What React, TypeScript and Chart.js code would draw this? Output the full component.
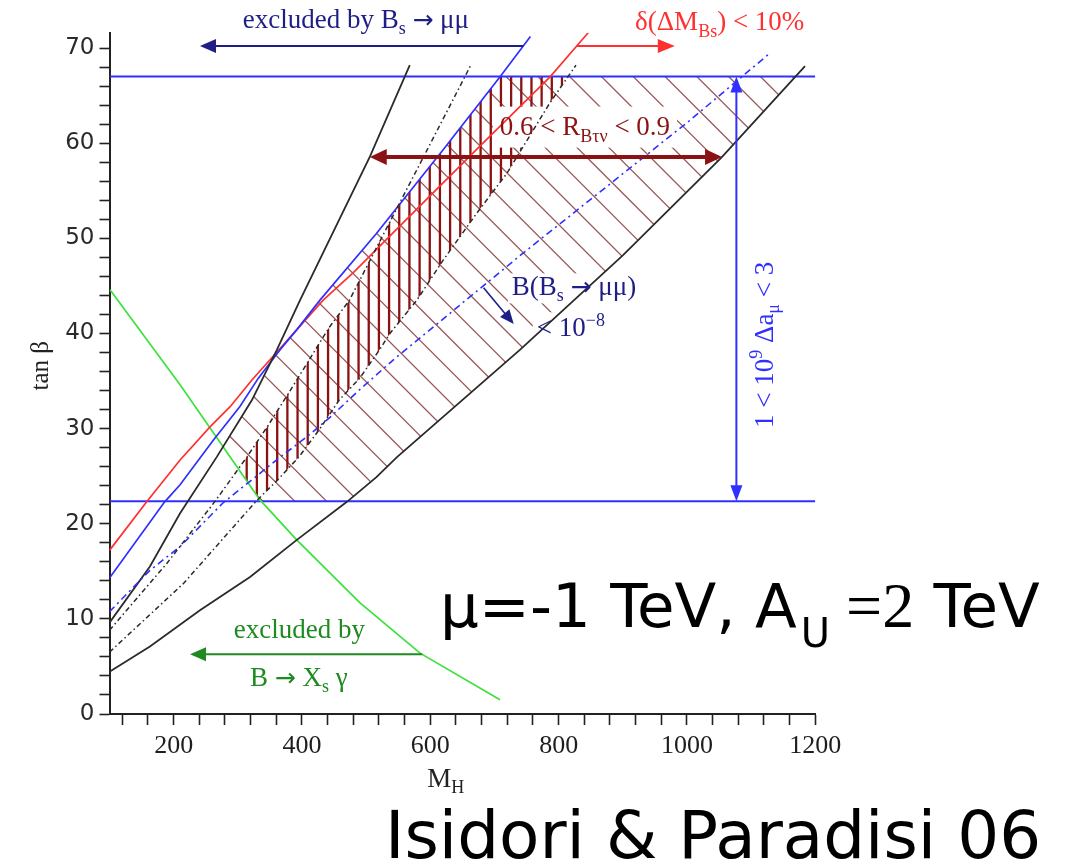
import React, { useEffect, useRef } from 'react';
import { Chart, registerables } from 'chart.js';

Chart.register(...registerables);

// ---------------- data: contours in the (M_H [GeV], tan β) plane ----------------
const mHRange = [100, 1200];
const tanBetaRange = [0, 71.6];

const xTickValues = [120, 160, 200, 240, 280, 320, 360, 400, 440, 480, 520, 560, 600, 640, 680, 720, 760, 800, 840, 880, 920, 960, 1000, 1040, 1080, 1120, 1160, 1200];
const xTickLabels = ['200', '400', '600', '800', '1000', '1200'];
const yTickValues = [0, 2, 4, 6, 8, 10, 12, 14, 16, 18, 20, 22, 24, 26, 28, 30, 32, 34, 36, 38, 40, 42, 44, 46, 48, 50, 52, 54, 56, 58, 60, 62, 64, 66, 68, 70];
const yTickLabels = ['0', '10', '20', '30', '40', '50', '60', '70'];

// solid black contours
const steepBlack_mH = [100, 163, 210, 267, 322, 361, 397, 506, 568];
const steepBlack_tanb = [9.6, 15.5, 21.1, 27.0, 33.0, 38.3, 43.5, 58.6, 68.2];
const lowBlack_mH = [100, 163, 241, 319, 392, 470, 516, 548, 740, 900, 1054, 1184];
const lowBlack_tanb = [4.45, 7.1, 10.9, 14.4, 18.3, 22.3, 24.9, 27.0, 38.3, 48.2, 58.5, 68.1];

// δ(ΔM_Bs) = 10 % contour
const deltaMs_mH = [100, 158, 210, 257, 288, 322, 355, 392, 433, 480, 557, 682, 787, 846];
const deltaMs_tanb = [17.2, 22.3, 26.7, 30.2, 32.3, 35.1, 37.6, 40.4, 43.5, 46.4, 51.6, 60.0, 67.0, 71.6];

// B(Bs → μμ) exclusion contour and the 10^-8 contour
const bsMuMu_mH = [100, 186, 210, 262, 303, 332, 366, 392, 428, 516, 620, 709, 756];
const bsMuMu_tanb = [14.3, 22.3, 24.1, 28.8, 32.3, 35.3, 38.3, 40.4, 43.5, 50.5, 59.3, 67.0, 71.2];
const bsMuMu8_mH = [100, 163, 210, 277, 366, 407, 444, 490, 542, 742, 1001, 1130];
const bsMuMu8_tanb = [10.75, 15.1, 17.6, 22.2, 27.0, 29.1, 31.2, 34.1, 37.2, 48.3, 62.2, 69.5];

// R_Bτν band edges
const rBtvUpper_mH = [100, 189, 265, 314, 346, 377, 411, 442, 474, 526, 579, 654, 663];
const rBtvUpper_tanb = [8.8, 15.8, 22.4, 27.0, 30.2, 33.5, 37.2, 40.6, 43.5, 50.3, 57.2, 67.0, 68.2];
const rBtvLower_mH = [100, 215, 329, 362, 395, 427, 458, 490, 521, 537, 579, 620, 672, 719, 786, 827];
const rBtvLower_tanb = [6.5, 13.7, 22.4, 24.6, 27.0, 29.9, 33.0, 35.3, 38.3, 40.0, 43.5, 47.7, 52.6, 56.8, 64.2, 68.2];

// B → X_s γ exclusion contour
const bsg_mH = [100.8, 210, 334.5, 391.7, 490, 584, 708.6];
const bsg_tanb = [44.6, 34.6, 22.5, 18.3, 11.7, 6.4, 1.5];

// tan β limits from 1 < 10^9 Δa_μ < 3
const amuBand = [22.35, 67.0];

// ---------------- styles ----------------
const SERIF = "'Liberation Serif', 'Times New Roman', serif";
const SANS = "'DejaVu Sans', Verdana, sans-serif";
const BIG = "'DejaVu Sans', sans-serif";

const C_BLACK = '#2b2b2b';
const C_BLUE = '#2f2fff';
const C_RED = '#ff3030';
const C_GREEN = '#3ce23c';
const C_NAVY = '#1e1e86';
const C_DARKRED = '#8a1212';
const C_DIAG = 'rgba(135,60,60,0.85)';
const C_TEXT_GREEN = '#1f8a1f';

const DIAG_STEP = 31.8;
const DIAG_PHASE = -206.5;
const VERT_STEP = 10.17;
const VERT_PHASE = 246.7;

// annotation anchors (data units)
const noteBsTop = { x: 484, y: 72.1, arrowY: 70.2, arrowTip: 241 };
const noteDeltaMs = { x: 1051, y: 71.9, arrowY: 70.2, arrowTip: 981 };
const noteRbtv = { x: 841, y: 60.9, arrowY: 58.55 };
const noteBs8 = { x1: 824, y1: 44.0, x2: 819, y2: 39.7, from: [683, 44.8], to: [730, 41.0] };
const noteAmu = { x: 1077, baseX: 1134, y: 38.8 };
const noteBsg = { x1: 396, y1: 7.99, x2: 395, y2: 2.94, arrowY: 6.27, arrowTip: 225.5 };

type Seg = { t: string; font: string; dy?: number; gap?: number };

const F27 = `27px ${SERIF}`;
const F18 = `18px ${SERIF}`;
const FARROW = `25px 'DejaVu Sans', sans-serif`;

function richWidth(ctx: CanvasRenderingContext2D, segs: Seg[]) {
  let w = 0;
  for (const s of segs) {
    ctx.font = s.font;
    w += (s.gap || 0) + ctx.measureText(s.t).width;
  }
  return w;
}

function drawRich(ctx: CanvasRenderingContext2D, segs: Seg[], x: number, y: number, align: 'left' | 'center', color: string) {
  const w = richWidth(ctx, segs);
  let cx = align === 'center' ? x - w / 2 : x;
  ctx.fillStyle = color;
  ctx.textAlign = 'left';
  ctx.textBaseline = 'alphabetic';
  for (const s of segs) {
    ctx.font = s.font;
    cx += s.gap || 0;
    ctx.fillText(s.t, cx, y + (s.dy || 0));
    cx += ctx.measureText(s.t).width;
  }
}

// white patch behind a label so the hatching stops around it
function clearBehind(ctx: CanvasRenderingContext2D, segs: Seg[], x: number, y: number, up: number, down: number, pad: number) {
  const w = richWidth(ctx, segs);
  ctx.fillStyle = '#fff';
  ctx.fillRect(x - w / 2 - pad, y - up, w + 2 * pad, up + down);
}

function head(ctx: CanvasRenderingContext2D, x: number, y: number, ang: number, len: number, half: number) {
  const c = Math.cos(ang), s = Math.sin(ang);
  ctx.beginPath();
  ctx.moveTo(x, y);
  ctx.lineTo(x - len * c + half * s, y - len * s - half * c);
  ctx.lineTo(x - len * c - half * s, y - len * s + half * c);
  ctx.closePath();
  ctx.fill();
}

function arrow(ctx: CanvasRenderingContext2D, x1: number, y1: number, x2: number, y2: number, color: string, lw: number, len: number, half: number, both = false) {
  const ang = Math.atan2(y2 - y1, x2 - x1);
  const c = Math.cos(ang), s = Math.sin(ang);
  ctx.save();
  ctx.strokeStyle = color;
  ctx.fillStyle = color;
  ctx.lineWidth = lw;
  ctx.beginPath();
  ctx.moveTo(both ? x1 + c * len * 0.7 : x1, both ? y1 + s * len * 0.7 : y1);
  ctx.lineTo(x2 - c * len * 0.7, y2 - s * len * 0.7);
  ctx.stroke();
  head(ctx, x2, y2, ang, len, half);
  if (both) head(ctx, x1, y1, ang + Math.PI, len, half);
  ctx.restore();
}

// M_H where a contour reaches a given tan β
function mHAt(xs: number[], ys: number[], y: number) {
  for (let i = 0; i < xs.length - 1; i++) {
    const y0 = ys[i], y1 = ys[i + 1];
    if ((y - y0) * (y - y1) <= 0 && y0 !== y1) return xs[i] + ((y - y0) / (y1 - y0)) * (xs[i + 1] - xs[i]);
  }
  return xs[xs.length - 1];
}

type Pt = [number, number];
const FAR = 4000;

function clipBelow(ctx: CanvasRenderingContext2D, pts: Pt[]) {
  const f = pts[0], l = pts[pts.length - 1];
  ctx.beginPath();
  ctx.moveTo(f[0], f[1]);
  for (const p of pts) ctx.lineTo(p[0], p[1]);
  ctx.lineTo(l[0] + FAR, l[1]);
  ctx.lineTo(l[0] + FAR, l[1] + FAR);
  ctx.lineTo(f[0] - FAR, f[1] + FAR);
  ctx.lineTo(f[0] - FAR, f[1]);
  ctx.closePath();
  ctx.clip();
}

function clipAbove(ctx: CanvasRenderingContext2D, pts: Pt[]) {
  const f = pts[0], l = pts[pts.length - 1];
  ctx.beginPath();
  ctx.moveTo(f[0], f[1]);
  for (const p of pts) ctx.lineTo(p[0], p[1]);
  ctx.lineTo(l[0] + FAR, l[1]);
  ctx.lineTo(l[0] + FAR, l[1] - FAR);
  ctx.lineTo(f[0] - FAR, f[1] - FAR);
  ctx.lineTo(f[0] - FAR, f[1]);
  ctx.closePath();
  ctx.clip();
}

const rbtvLabel: Seg[] = [{ t: '0.6 < R', font: F27 }, { t: 'B\u03c4\u03bd', font: F18, dy: 7 }, { t: ' < 0.9', font: F27 }];
const bs8Label1: Seg[] = [{ t: 'B(B', font: F27 }, { t: 's', font: F18, dy: 6 }, { t: ' ', font: F27 }, { t: '\u2192', font: FARROW }, { t: ' \u03bc\u03bc)', font: F27 }];
const bs8Label2: Seg[] = [{ t: '< 10', font: F27 }, { t: '\u22128', font: F18, dy: -10 }];

const regionsPlugin = {
  id: 'allowedRegions',
  beforeDatasetsDraw(chart: any) {
    const { ctx, chartArea: ca } = chart;
    const sx = chart.scales.x, sy = chart.scales.y;
    const P = (xs: number[], ys: number[]): Pt[] => xs.map((v, i) => [sx.getPixelForValue(v), sy.getPixelForValue(ys[i])]);
    const yHi = sy.getPixelForValue(amuBand[1]);
    const yLo = sy.getPixelForValue(amuBand[0]);

    // diagonal hatching: allowed by B(Bs→μμ), B→Xsγ and Δa_μ
    ctx.save();
    ctx.beginPath();
    ctx.rect(ca.left, yHi, ca.right - ca.left, yLo - yHi);
    ctx.clip();
    clipAbove(ctx, P(bsg_mH, bsg_tanb));
    clipBelow(ctx, P(steepBlack_mH, steepBlack_tanb));
    clipBelow(ctx, P(bsMuMu_mH, bsMuMu_tanb));
    clipAbove(ctx, P(lowBlack_mH, lowBlack_tanb));
    ctx.strokeStyle = C_DIAG;
    ctx.lineWidth = 1.3;
    ctx.beginPath();
    for (let k = -40; k <= 60; k++) {
      const c = DIAG_PHASE + k * DIAG_STEP;
      ctx.moveTo(c + yHi - 20, yHi - 20);
      ctx.lineTo(c + yLo + 20, yLo + 20);
    }
    ctx.stroke();
    ctx.restore();

    // vertical hatching: inside the R_Bτν band as well
    ctx.save();
    ctx.beginPath();
    ctx.rect(ca.left, yHi, ca.right - ca.left, yLo - yHi);
    ctx.clip();
    clipAbove(ctx, P(bsg_mH, bsg_tanb));
    clipBelow(ctx, P(bsMuMu_mH, bsMuMu_tanb));
    clipBelow(ctx, P(rBtvUpper_mH, rBtvUpper_tanb));
    clipAbove(ctx, P(rBtvLower_mH, rBtvLower_tanb));
    ctx.strokeStyle = C_DARKRED;
    ctx.lineWidth = 2.3;
    ctx.beginPath();
    for (let k = -20; k <= 70; k++) {
      const x = VERT_PHASE + k * VERT_STEP;
      ctx.moveTo(x, yHi - 5);
      ctx.lineTo(x, yLo + 5);
    }
    ctx.stroke();
    ctx.restore();

    // label patches
    ctx.save();
    clearBehind(ctx, rbtvLabel, sx.getPixelForValue(noteRbtv.x), sy.getPixelForValue(noteRbtv.y), 28, 13, 7);
    clearBehind(ctx, bs8Label1, sx.getPixelForValue(noteBs8.x1), sy.getPixelForValue(noteBs8.y1), 22, 8, 4);
    clearBehind(ctx, bs8Label2, sx.getPixelForValue(noteBs8.x2), sy.getPixelForValue(noteBs8.y2), 24, 6, 4);
    ctx.restore();
  },
  afterDatasetsDraw(chart: any) {
    const { ctx } = chart;
    const sx = chart.scales.x, sy = chart.scales.y;
    const X = (v: number) => sx.getPixelForValue(v);
    const Y = (v: number) => sy.getPixelForValue(v);

    // excluded by Bs → μμ
    drawRich(ctx, [{ t: 'excluded by B', font: F27 }, { t: 's', font: F18, dy: 6 }, { t: ' ', font: F27 }, { t: '\u2192', font: FARROW }, { t: ' \u03bc\u03bc', font: F27 }], X(noteBsTop.x), Y(noteBsTop.y), 'center', C_NAVY);
    arrow(ctx, X(mHAt(bsMuMu_mH, bsMuMu_tanb, noteBsTop.arrowY)), Y(noteBsTop.arrowY), X(noteBsTop.arrowTip), Y(noteBsTop.arrowY), C_NAVY, 2, 16, 7);

    // δ(ΔM_Bs) < 10%
    drawRich(ctx, [{ t: '\u03b4(\u0394M', font: F27 }, { t: 'Bs', font: F18, dy: 7 }, { t: ') < 10%', font: F27 }], X(noteDeltaMs.x), Y(noteDeltaMs.y), 'center', C_RED);
    arrow(ctx, X(mHAt(deltaMs_mH, deltaMs_tanb, noteDeltaMs.arrowY)), Y(noteDeltaMs.arrowY), X(noteDeltaMs.arrowTip), Y(noteDeltaMs.arrowY), C_RED, 2, 17, 7);

    // 0.6 < R_Bτν < 0.9
    drawRich(ctx, rbtvLabel, X(noteRbtv.x), Y(noteRbtv.y), 'center', C_DARKRED);
    arrow(ctx, X(mHAt(steepBlack_mH, steepBlack_tanb, noteRbtv.arrowY)), Y(noteRbtv.arrowY), X(mHAt(lowBlack_mH, lowBlack_tanb, noteRbtv.arrowY)), Y(noteRbtv.arrowY), C_DARKRED, 4, 17, 8, true);

    // B(Bs → μμ) < 10^-8
    drawRich(ctx, bs8Label1, X(noteBs8.x1), Y(noteBs8.y1), 'center', C_NAVY);
    drawRich(ctx, bs8Label2, X(noteBs8.x2), Y(noteBs8.y2), 'center', C_NAVY);
    arrow(ctx, X(noteBs8.from[0]), Y(noteBs8.from[1]), X(noteBs8.to[0]), Y(noteBs8.to[1]), C_NAVY, 1.6, 14, 6);

    // 1 < 10^9 Δa_μ < 3
    arrow(ctx, X(noteAmu.x), Y(amuBand[0]), X(noteAmu.x), Y(amuBand[1]), C_BLUE, 2, 16, 6, true);
    ctx.save();
    ctx.translate(X(noteAmu.baseX), Y(noteAmu.y));
    ctx.rotate(-Math.PI / 2);
    drawRich(ctx, [{ t: '1 < 10', font: F27 }, { t: '9', font: F18, dy: -11 }, { t: ' \u0394a', font: F27 }, { t: '\u03bc', font: F18, dy: 6 }, { t: ' < 3', font: F27 }], 0, 0, 'center', C_BLUE);
    ctx.restore();

    // excluded by B → Xs γ
    drawRich(ctx, [{ t: 'excluded by', font: F27 }], X(noteBsg.x1), Y(noteBsg.y1), 'center', C_TEXT_GREEN);
    drawRich(ctx, [{ t: 'B ', font: F27 }, { t: '\u2192', font: FARROW }, { t: ' X', font: F27 }, { t: 's', font: F18, dy: 6 }, { t: ' \u03b3', font: F27 }], X(noteBsg.x2), Y(noteBsg.y2), 'center', C_TEXT_GREEN);
    arrow(ctx, X(mHAt(bsg_mH, bsg_tanb, noteBsg.arrowY)), Y(noteBsg.arrowY), X(noteBsg.arrowTip), Y(noteBsg.arrowY), C_TEXT_GREEN, 2, 16, 7);
  },
  afterDraw(chart: any) {
    const { ctx, chartArea: ca } = chart;
    const sx = chart.scales.x, sy = chart.scales.y;

    // axis titles
    drawRich(ctx, [{ t: 'M', font: `27px ${SERIF}` }, { t: 'H', font: `18px ${SERIF}`, dy: 6 }], sx.getPixelForValue(624), ca.bottom + 73, 'center', '#222');
    ctx.save();
    ctx.translate(ca.left - 62, sy.getPixelForValue(36.6));
    ctx.rotate(-Math.PI / 2);
    drawRich(ctx, [{ t: 'tan \u03b2', font: `25px ${SERIF}` }], 0, 0, 'center', '#222');
    ctx.restore();

    // parameter set and reference
    drawRich(ctx, [
      { t: '\u03bc=-1 TeV, A', font: `61px ${BIG}` },
      { t: 'U', font: `40px ${BIG}`, dy: 20, gap: 4 },
      { t: '=2', font: `64px ${SERIF}`, gap: 16 },
      { t: ' TeV', font: `61px ${BIG}` },
    ], 440, 627, 'left', '#000');
    drawRich(ctx, [{ t: 'Isidori & Paradisi 06', font: `66px ${BIG}` }], 385, 858, 'left', '#000');
  },
};

function line(xs: number[], ys: number[], color: string, width: number, dash: number[] = []) {
  return {
    data: xs.map((x, i) => ({ x, y: ys[i] })),
    borderColor: color,
    borderWidth: width,
    borderDash: dash,
    pointRadius: 0,
    fill: false,
    tension: 0,
  };
}

export default function App() {
  const canvasRef = useRef<HTMLCanvasElement>(null);

  useEffect(() => {
    const canvas = canvasRef.current;
    if (!canvas) return;
    const chart = new Chart(canvas, {
      type: 'line',
      data: {
        datasets: [
          line(rBtvUpper_mH, rBtvUpper_tanb, C_BLACK, 1.5, [5, 3, 1.5, 3]),
          line(rBtvLower_mH, rBtvLower_tanb, C_BLACK, 1.5, [5, 3, 1.5, 3]),
          line(bsMuMu8_mH, bsMuMu8_tanb, C_BLUE, 1.6, [7, 4, 2, 4]),
          line(steepBlack_mH, steepBlack_tanb, C_BLACK, 1.8),
          line(lowBlack_mH, lowBlack_tanb, C_BLACK, 1.8),
          line(bsMuMu_mH, bsMuMu_tanb, C_BLUE, 1.7),
          line(deltaMs_mH, deltaMs_tanb, C_RED, 1.7),
          line(bsg_mH, bsg_tanb, C_GREEN, 1.7),
          line(mHRange, [amuBand[0], amuBand[0]], C_BLUE, 2),
          line(mHRange, [amuBand[1], amuBand[1]], C_BLUE, 2),
        ],
      },
      options: {
        animation: false,
        responsive: false,
        devicePixelRatio: 1,
        events: [],
        layout: { padding: { left: 0, right: 250.7, top: 32.8, bottom: 0 } },
        plugins: { legend: { display: false }, tooltip: { enabled: false } },
        scales: {
          x: {
            type: 'linear',
            min: mHRange[0],
            max: mHRange[1],
            afterBuildTicks: (axis: any) => { axis.ticks = xTickValues.map((value) => ({ value })); },
            afterFit: (axis: any) => { axis.height = 154; },
            ticks: {
              autoSkip: false,
              maxRotation: 0,
              padding: 6,
              color: '#1e1e1e',
              font: { family: SERIF, size: 26 },
              callback: (v: any) => (xTickLabels.includes(String(v)) ? String(v) : ''),
            },
            grid: { drawOnChartArea: false, drawTicks: true, tickLength: 11, tickColor: '#222', tickWidth: 1.6 },
            border: { display: true, color: '#222', width: 2 },
          },
          y: {
            type: 'linear',
            min: tanBetaRange[0],
            max: tanBetaRange[1],
            afterBuildTicks: (axis: any) => { axis.ticks = yTickValues.map((value) => ({ value })); },
            afterFit: (axis: any) => { axis.width = 109.5; },
            ticks: {
              autoSkip: false,
              padding: 5,
              color: '#2a2a2a',
              font: { family: SANS, size: 23 },
              callback: (v: any) => (yTickLabels.includes(String(v)) ? String(v) : ''),
            },
            grid: { drawOnChartArea: false, drawTicks: true, tickLength: 10, tickColor: '#222', tickWidth: 1.6 },
            border: { display: true, color: '#222', width: 2 },
          },
        },
      } as any,
      plugins: [regionsPlugin],
    });
    return () => chart.destroy();
  }, []);

  return (
    <div style={{ position: 'absolute', left: 0, top: 0, width: 1066, height: 868, background: '#fff' }}>
      <canvas ref={canvasRef} width={1066} height={868} style={{ display: 'block' }} />
    </div>
  );
}
